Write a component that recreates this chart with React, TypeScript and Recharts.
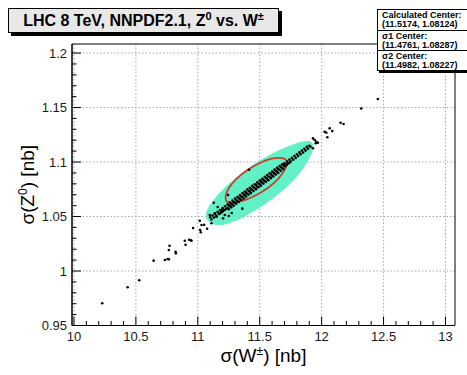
import { ScatterChart, Scatter, XAxis, YAxis, CartesianGrid, ReferenceArea, Label } from 'recharts';

const FONT = "'Liberation Sans', Arial, Helvetica, sans-serif";
const CYAN = '#62f0c6';
const RED = '#c8402e';

const X_DOMAIN: [number, number] = [9.984, 13.077];
const Y_DOMAIN: [number, number] = [0.95, 1.2083];
const X_MAJOR = [10, 10.5, 11, 11.5, 12, 12.5, 13];
const Y_MAJOR = [0.95, 1, 1.05, 1.1, 1.15, 1.2];

const xTicks: number[] = [];
for (let i = 0; i <= 30; i++) xTicks.push(+(10 + i * 0.1).toFixed(2));
const yTicks: number[] = [];
for (let i = 0; i <= 25; i++) yTicks.push(+(0.95 + i * 0.01).toFixed(2));

const LEGEND_LINES = [
  ['Calculated Center:', '(11.5174, 1.08124)'],
  ['\u03c31 Center:', '(11.4761, 1.08287)'],
  ['\u03c32 Center:', '(11.4982, 1.08227)'],
];

// 2 sigma region outline
const sigma2Contour: [number, number][] = [
  [11.935, 1.1192], [11.847, 1.1190], [11.766, 1.1156], [11.661, 1.1110],
  [11.556, 1.1046], [11.444, 1.0972], [11.339, 1.0881], [11.242, 1.0789],
  [11.161, 1.0697], [11.097, 1.0606], [11.060, 1.0520], [11.080, 1.0452],
  [11.169, 1.0412], [11.282, 1.0450], [11.419, 1.0528], [11.556, 1.0624],
  [11.685, 1.0739], [11.798, 1.0862], [11.879, 1.0991], [11.928, 1.1101],
];

// 1 sigma ellipse outline
const sigma1Contour: [number, number][] = [
  [11.734, 1.1009], [11.685, 1.1041], [11.597, 1.1037], [11.500, 1.0995],
  [11.403, 1.0931], [11.315, 1.0853], [11.250, 1.0771], [11.222, 1.0693],
  [11.222, 1.0628], [11.298, 1.0624], [11.387, 1.0651], [11.484, 1.0702],
  [11.581, 1.0771], [11.661, 1.0853], [11.710, 1.0940],
];

// sparse replicas away from the core
const outerPoints: [number, number][] = [
  [10.228, 0.9704], [10.433, 0.9851], [10.527, 0.9915], [10.643, 1.0095],
  [10.734, 1.0101], [10.756, 1.011], [10.766, 1.0107], [10.766, 1.0193],
  [10.772, 1.0232], [10.82, 1.0177], [10.823, 1.0162], [10.895, 1.0278],
  [10.901, 1.0241], [10.93, 1.0287], [10.944, 1.0282], [10.949, 1.0278],
  [10.962, 1.0394], [11.016, 1.0461], [11.019, 1.0376], [11.024, 1.0355],
  [11.051, 1.0425], [11.03, 1.0422], [11.075, 1.0388], [11.11, 1.0438],
  [11.097, 1.0514], [11.137, 1.0529], [11.151, 1.0498], [11.177, 1.0529],
  [11.191, 1.056], [11.204, 1.0483], [11.218, 1.0514], [11.129, 1.0627],
  [11.161, 1.0587], [11.25, 1.0505], [11.274, 1.0532], [11.36, 1.0572],
  [11.244, 1.0697], [11.414, 1.0929],
  [11.93, 1.1217], [11.944, 1.1202], [11.957, 1.1186], [11.97, 1.1177],
  [11.952, 1.1172], [11.93, 1.1126], [12.024, 1.1278], [12.038, 1.1269],
  [12.046, 1.1227], [12.065, 1.1309], [12.086, 1.1284], [12.153, 1.136],
  [12.177, 1.1349], [12.32, 1.1491], [12.454, 1.1578],
];

// dense core of replicas along the correlation line
const corePoints: [number, number][] = [
  [11.10, 1.0493], [11.11, 1.0473], [11.12, 1.0510], [11.13, 1.0490],
  [11.14, 1.0526], [11.15, 1.0506], [11.16, 1.0543], [11.17, 1.0523],
  [11.18, 1.0560], [11.19, 1.0540], [11.18, 1.0530], [11.20, 1.0577],
  [11.21, 1.0557], [11.20, 1.0545], [11.22, 1.0594], [11.23, 1.0574],
  [11.22, 1.0562],
  [11.24, 1.0612], [11.25, 1.0602], [11.24, 1.0577], [11.25, 1.0567],
  [11.26, 1.0629], [11.27, 1.0614], [11.26, 1.0594], [11.27, 1.0584],
  [11.28, 1.0646], [11.29, 1.0636], [11.28, 1.0611], [11.29, 1.0598],
  [11.30, 1.0665], [11.31, 1.0652], [11.30, 1.0627], [11.31, 1.0617],
  [11.32, 1.0679], [11.33, 1.0669], [11.32, 1.0641], [11.33, 1.0634],
  [11.34, 1.0696], [11.35, 1.0683], [11.34, 1.0661], [11.35, 1.0651],
  [11.36, 1.0716], [11.37, 1.0703], [11.36, 1.0678], [11.37, 1.0665],
  [11.38, 1.0729], [11.39, 1.0719], [11.38, 1.0694], [11.39, 1.0684],
  [11.40, 1.0749], [11.41, 1.0736], [11.40, 1.0708], [11.41, 1.0701],
  [11.42, 1.0763], [11.43, 1.0753], [11.42, 1.0728], [11.43, 1.0715],
  [11.44, 1.0781], [11.45, 1.0769], [11.44, 1.0744], [11.45, 1.0734],
  [11.46, 1.0796], [11.47, 1.0789], [11.46, 1.0761], [11.47, 1.0751],
  [11.48, 1.0813], [11.49, 1.0803], [11.48, 1.0775], [11.49, 1.0768],
  [11.50, 1.0832], [11.51, 1.0820], [11.50, 1.0795], [11.51, 1.0783],
  [11.52, 1.0846], [11.53, 1.0836], [11.52, 1.0811], [11.53, 1.0801],
  [11.54, 1.0865], [11.55, 1.0853], [11.54, 1.0826], [11.55, 1.0818],
  [11.56, 1.0880], [11.57, 1.0870], [11.56, 1.0845], [11.57, 1.0833],
  [11.58, 1.0897], [11.59, 1.0889], [11.58, 1.0862], [11.59, 1.0852],
  [11.60, 1.0913], [11.61, 1.0903], [11.60, 1.0876], [11.61, 1.0868],
  [11.62, 1.0932], [11.63, 1.0920], [11.62, 1.0895], [11.63, 1.0885],
  [11.64, 1.0947], [11.65, 1.0937], [11.64, 1.0912], [11.65, 1.0900],
  [11.66, 1.0964], [11.67, 1.0954], [11.66, 1.0929], [11.67, 1.0919],
  [11.68, 1.0980], [11.69, 1.0970], [11.68, 1.0945], [11.69, 1.0935],
  [11.70, 1.0988], [11.71, 1.0971], [11.70, 1.0960], [11.72, 1.1005],
  [11.73, 1.0988], [11.72, 1.0977], [11.74, 1.1022], [11.75, 1.1005],
  [11.74, 1.0994], [11.76, 1.1038], [11.77, 1.1021], [11.78, 1.1055],
  [11.79, 1.1038], [11.80, 1.1072], [11.81, 1.1055], [11.82, 1.1089],
  [11.83, 1.1072], [11.84, 1.1105], [11.85, 1.1088], [11.86, 1.1122],
  [11.87, 1.1105], [11.88, 1.1139], [11.89, 1.1122], [11.90, 1.1150],
  [11.91, 1.1140],
];

const toXY = (pts: [number, number][]) => pts.map(([x, y]) => ({ x, y }));

const isMajor = (v: number, step: number) => Math.abs(v / step - Math.round(v / step)) < 1e-6;
const fmt = (v: number) => String(Number(v.toFixed(2)));

const TICK_GAP = 5;

const YTick = (props: any) => {
  const { x, y, payload } = props;
  const v = payload.value as number;
  const major = isMajor(v, 0.05);
  const ax = x + TICK_GAP;
  return (
    <g>
      <line x1={ax} x2={ax + (major ? 9 : 4.5)} y1={y} y2={y} stroke="#000" strokeWidth={1} />
      {major && (
        <text x={x} y={y} dy={4.5} textAnchor="end" fontSize={13} fill="#1a1a1a" fontFamily={FONT}>
          {fmt(v)}
        </text>
      )}
    </g>
  );
};

const XTick = (props: any) => {
  const { x, y, payload } = props;
  const v = payload.value as number;
  const major = isMajor(v, 0.5);
  const ay = y - TICK_GAP;
  return (
    <g>
      <line x1={x} x2={x} y1={ay} y2={ay - (major ? 9 : 4.5)} stroke="#000" strokeWidth={1} />
      {major && (
        <text x={x} y={y} dy={10} textAnchor="middle" fontSize={13} fill="#1a1a1a" fontFamily={FONT}>
          {fmt(v)}
        </text>
      )}
    </g>
  );
};

const dot = (p: any) => <circle cx={p.cx} cy={p.cy} r={1.3} fill="#000" />;
const noDot = () => <g />;

export default function App() {
  return (
    <div style={{ position: 'absolute', left: 0, top: 0, width: 467, height: 375, overflow: 'hidden', background: '#fff', fontFamily: FONT }}>
      <ScatterChart width={467} height={375} margin={{ top: 44, right: 12, bottom: 0, left: 0 }}>
        <CartesianGrid
          horizontalValues={Y_MAJOR}
          verticalValues={X_MAJOR}
          stroke="#a8a8a8"
          strokeDasharray="1.5 2"
        />
        <XAxis
          type="number"
          dataKey="x"
          domain={X_DOMAIN}
          allowDataOverflow
          ticks={xTicks}
          interval={0}
          tickSize={0}
          tickMargin={TICK_GAP}
          tickLine={false}
          axisLine={{ stroke: '#000' }}
          tick={<XTick />}
          height={49.5}
        >
          <Label
            content={(p: any) => {
              const vb = p.viewBox;
              return (
                <text x={vb.x + vb.width / 2} y={362} textAnchor="middle" fontSize={19} fontFamily={FONT} fill="#000">
                  σ(W<tspan dy={-7} fontSize={12}>±</tspan><tspan dy={7}>) [nb]</tspan>
                </text>
              );
            }}
          />
        </XAxis>
        <YAxis
          type="number"
          dataKey="y"
          domain={Y_DOMAIN}
          allowDataOverflow
          ticks={yTicks}
          interval={0}
          tickSize={0}
          tickMargin={TICK_GAP}
          tickLine={false}
          axisLine={{ stroke: '#000' }}
          tick={<YTick />}
          width={72}
        >
          <Label
            content={(p: any) => {
              const vb = p.viewBox;
              const cx = 34;
              const cy = vb.y + vb.height / 2;
              return (
                <text x={cx} y={cy} transform={`rotate(-90 ${cx} ${cy})`} textAnchor="middle" fontSize={19} fontFamily={FONT} fill="#000">
                  σ(Z<tspan dy={-7} fontSize={12}>0</tspan><tspan dy={7}>) [nb]</tspan>
                </text>
              );
            }}
          />
        </YAxis>
        <Scatter
          data={toXY(sigma2Contour)}
          shape={noDot}
          line={{ fill: CYAN, stroke: CYAN, strokeWidth: 1 }}
          lineType="joint"
          lineJointType="basisClosed"
          isAnimationActive={false}
        />
        <Scatter
          data={toXY(sigma1Contour)}
          shape={noDot}
          line={{ fill: 'none', stroke: RED, strokeWidth: 1.8 }}
          lineType="joint"
          lineJointType="basisClosed"
          isAnimationActive={false}
        />
        <Scatter data={toXY(corePoints)} shape={dot} isAnimationActive={false} />
        <Scatter data={toXY(outerPoints)} shape={dot} isAnimationActive={false} />
        <ReferenceArea
          x1={X_DOMAIN[0]}
          x2={X_DOMAIN[1]}
          y1={Y_DOMAIN[0]}
          y2={Y_DOMAIN[1]}
          fill="none"
          stroke="#000"
          strokeWidth={1}
          fillOpacity={0}
        />
      </ScatterChart>

      <div
        style={{
          position: 'absolute', left: 8, top: 8, width: 271, height: 25, boxSizing: 'border-box',
          border: '1px solid #000', background: '#e8e8e8', boxShadow: '3px 3px 0 #000',
          textAlign: 'center', fontSize: 16, fontWeight: 'bold', lineHeight: '23px', color: '#000',
        }}
      >
        LHC 8 TeV, NNPDF2.1, Z<span style={{ fontSize: 11, position: 'relative', top: -6 }}>0</span> vs. W
        <span style={{ fontSize: 11, position: 'relative', top: -6 }}>±</span>
      </div>

      <div
        style={{
          position: 'absolute', left: 377, top: 9, width: 110, height: 62, boxSizing: 'border-box',
          border: '1px solid #000', background: '#fff', boxShadow: '2px 2px 0 #000',
          fontSize: 9, fontWeight: 'bold', color: '#000',
        }}
      >
        {LEGEND_LINES.map(([a, b], i) => (
          <div
            key={a}
            style={{
              height: 20, boxSizing: 'border-box', padding: '1px 0 0 4px', lineHeight: '9px',
              borderTop: i > 0 ? '1px solid #000' : 'none',
            }}
          >
            <div>{a}</div>
            <div>{b}</div>
          </div>
        ))}
      </div>
    </div>
  );
}
